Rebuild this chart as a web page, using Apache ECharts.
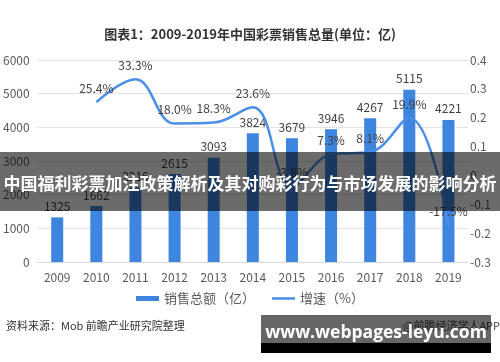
<!DOCTYPE html>
<html><head><meta charset="utf-8">
<script src="https://cdn.jsdelivr.net/npm/echarts@6/dist/echarts.min.js"></script>
<style>html,body{margin:0;padding:0;background:#fff}#c{width:500px;height:362px}</style>
</head><body><div id="c"></div>
<script>
var years = ['2009','2010','2011','2012','2013','2014','2015','2016','2017','2018','2019'];
var sales = [1325, 1662, 2216, 2615, 3093, 3824, 3679, 3946, 4267, 5115, 4221];
var growth = [null, 0.254, 0.333, 0.180, 0.183, 0.236, -0.038, 0.073, 0.081, 0.199, -0.175];
var seriesNames = ['销售总额（亿）', '增速（%）'];
var titleText = '图表1：2009-2019年中国彩票销售总量(单位：亿)';
var sourceText = '资料来源：Mob 前瞻产业研究院整理';
var bannerText = '中国福利彩票加注政策解析及其对购彩行为与市场发展的影响分析';
var siteText = 'www.webpages-leyu.com';
var appText = '@前瞻经济学人APP';

var FONT = '"Noto Sans CJK SC", "Liberation Sans", sans-serif';
var chart = echarts.init(document.getElementById('c'), null, {renderer: 'canvas'});
chart.setOption({
  animation: false,
  textStyle: {fontFamily: FONT},
  title: {
    text: titleText, left: 'center', top: 23,
    textStyle: {fontSize: 13, fontWeight: 'bold', color: '#333', fontFamily: FONT}
  },
  legend: {
    data: [
      {name: seriesNames[0], icon: 'rect'},
      {name: seriesNames[1], icon: 'path://M0,0 L24,0 M0,1.3 L24,1.3 L24,3.7 L0,3.7 Z M0,5 L24,5',
       itemStyle: {color: '#4A8FE7', borderWidth: 0}}
    ],
    bottom: 52, left: 'center', itemGap: 17,
    itemWidth: 23, itemHeight: 5,
    textStyle: {fontSize: 13, color: '#595959', fontFamily: FONT}
  },
  grid: {left: 36, right: 32, top: 60, bottom: 100, containLabel: false},
  xAxis: {
    type: 'category', data: years,
    axisLine: {lineStyle: {color: '#d9d9d9'}},
    axisTick: {show: false},
    axisLabel: {color: '#595959', fontSize: 12, margin: 9}
  },
  yAxis: [
    {type: 'value', min: 0, max: 6000, interval: 1000,
     axisLine: {show: false}, axisTick: {show: false},
     axisLabel: {color: '#595959', fontSize: 12, margin: 8,
       formatter: function(v){ return String(v); }},
     splitLine: {lineStyle: {color: '#e3e3e3'}}},
    {type: 'value', min: -0.3, max: 0.4, interval: 0.1,
     axisLine: {show: false}, axisTick: {show: false}, splitLine: {show: false},
     axisLabel: {color: '#595959', fontSize: 12, margin: 2,
       formatter: function(v){ return Math.abs(v) < 1e-9 ? '0' : v.toFixed(1); }}}
  ],
  series: [
    {name: seriesNames[0], type: 'bar', data: sales, barWidth: 12,
     itemStyle: {color: '#3E85DF'},
     label: {show: true, position: 'top', distance: 5, color: '#404040', fontSize: 12}},
    {name: seriesNames[1], type: 'line', yAxisIndex: 1, data: growth,
     smooth: 0.4, smoothConstraint: false, showSymbol: true, symbol: 'circle', symbolSize: 0.01,
     lineStyle: {color: '#4A8FE7', width: 2.5}, itemStyle: {color: '#4A8FE7'},
     label: {show: true, position: 'top', distance: 8, color: '#404040', fontSize: 12,
       formatter: function(p){ return (p.value * 100).toFixed(1) + '%'; }}}
  ],
  graphic: [
    {type: 'text', left: 6, top: 320, z: 10,
     style: {text: sourceText, fill: '#333', font: '11px ' + FONT}},
    {type: 'text', right: 0, top: 320, z: 10,
     style: {text: appText, fill: '#444', font: '11px ' + FONT}},
    {type: 'rect', shape: {x: 0, y: 152, width: 500, height: 59}, z: 100,
     style: {fill: 'rgba(0,0,0,0.58)'}},
    {type: 'text', x: 250, y: 184, z: 101,
     style: {text: bannerText, fill: '#fff', align: 'center', verticalAlign: 'middle',
       font: 'bold 17px ' + FONT}},
    {type: 'rect', shape: {x: 261, y: 315, width: 230, height: 28}, z: 100,
     style: {fill: 'rgba(0,0,0,0.6)'}},
    {type: 'rect', shape: {x: 261, y: 343, width: 230, height: 10}, z: 100,
     style: {fill: '#000'}},
    {type: 'text', x: 376, y: 333, z: 101,
     style: {text: siteText, fill: '#fff', align: 'center', verticalAlign: 'middle',
       font: 'bold 17.5px "Open Sans", "DejaVu Sans", sans-serif'}}
  ]
});
</script></body></html>
